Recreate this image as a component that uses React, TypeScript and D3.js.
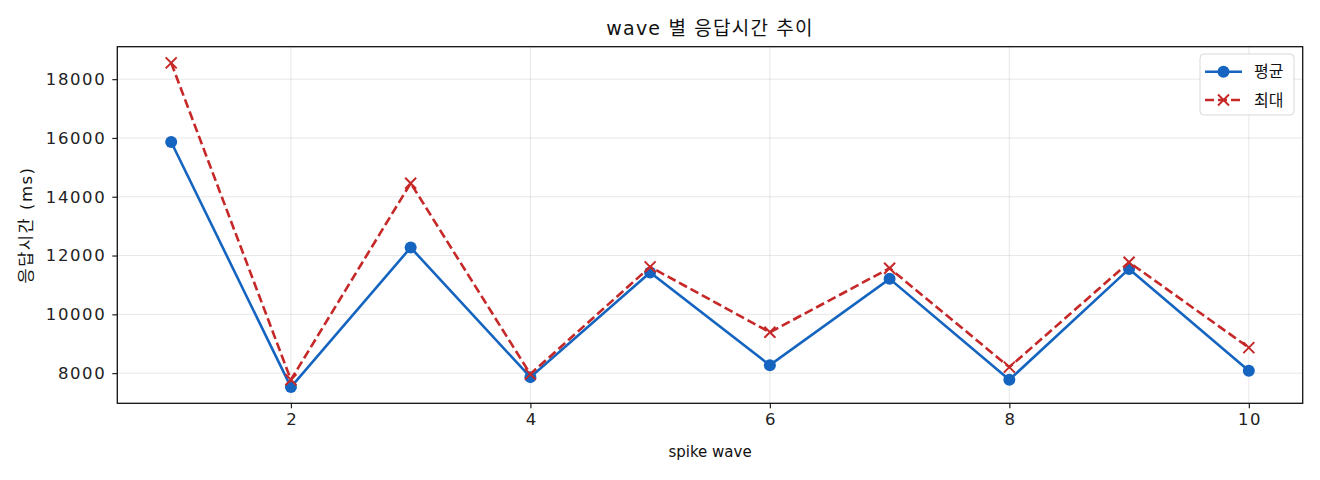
import React, { useEffect, useRef } from 'react';
import * as d3 from 'd3';

const waves = [1, 2, 3, 4, 5, 6, 7, 8, 9, 10];
const avgMs = [15864, 7525, 12271, 7864, 11424, 8271, 11207, 7773, 11546, 8078];
const maxMs = [18553, 7773, 14461, 7966, 11614, 9390, 11569, 8203, 11773, 8868];
const yTicks = [8000, 10000, 12000, 14000, 16000, 18000];
const xTicks = [2, 4, 6, 8, 10];
const legendLabels = ['평균', '최대'];

const BLUE = '#1565c0';
const RED = '#c62828';
const FONT = '"DejaVu Sans", "Noto Sans CJK KR", sans-serif';

const App: React.FC = () => {
  const svgRef = useRef<SVGSVGElement>(null);
  const width = 1320;
  const height = 480;

  useEffect(() => {
    document.body.style.margin = '0';
    if (!svgRef.current) return;
    const svg = d3.select(svgRef.current);
    svg.selectAll('*').remove();

    const left = 117.3, right = 1302.7, top = 46.7, bottom = 403.3;

    // matplotlib-like 5% margins
    const xMin = d3.min(waves)!, xMax = d3.max(waves)!;
    const xPad = (xMax - xMin) * 0.05;
    const all = avgMs.concat(maxMs);
    const yMin = d3.min(all)!, yMax = d3.max(all)!;
    const yPad = (yMax - yMin) * 0.05;

    const x = d3.scaleLinear().domain([xMin - xPad, xMax + xPad]).range([left, right]);
    const y = d3.scaleLinear().domain([yMin - yPad, yMax + yPad]).range([bottom, top]);

    svg.append('rect')
      .attr('width', width).attr('height', height).attr('fill', 'white');

    // Grid
    const grid = svg.append('g');
    grid.selectAll('.gx').data(xTicks).enter().append('line')
      .attr('x1', d => x(d)).attr('x2', d => x(d))
      .attr('y1', top).attr('y2', bottom)
      .attr('stroke', '#b0b0b0').attr('stroke-opacity', 0.3).attr('stroke-width', 1);
    grid.selectAll('.gy').data(yTicks).enter().append('line')
      .attr('x1', left).attr('x2', right)
      .attr('y1', d => y(d)).attr('y2', d => y(d))
      .attr('stroke', '#b0b0b0').attr('stroke-opacity', 0.3).attr('stroke-width', 1);

    // Axes
    const xAxis = svg.append('g')
      .attr('transform', `translate(0,${bottom})`)
      .call(d3.axisBottom(x).tickValues(xTicks).tickSize(5).tickPadding(5).tickFormat(d3.format('d')));
    const yAxis = svg.append('g')
      .attr('transform', `translate(${left},0)`)
      .call(d3.axisLeft(y).tickValues(yTicks).tickSize(5).tickPadding(6).tickFormat(d3.format('d')));
    [xAxis, yAxis].forEach(a => {
      a.select('.domain').remove();
      a.selectAll('line').attr('stroke', '#222').attr('stroke-width', 1.2);
      a.selectAll('text')
        .style('font-family', FONT)
        .style('font-size', '16.5px')
        .style('letter-spacing', '1.6px')
        .attr('fill', '#222');
    });
    xAxis.selectAll('text').attr('dx', '0.8px');

    // Lines
    const line = d3.line<number>()
      .x((_, i) => x(waves[i]))
      .y(d => y(d));

    svg.append('path')
      .datum(avgMs)
      .attr('d', line)
      .attr('fill', 'none')
      .attr('stroke', BLUE)
      .attr('stroke-width', 2.6);

    svg.selectAll('.avg-pt').data(avgMs).enter().append('circle')
      .attr('cx', (_, i) => x(waves[i]))
      .attr('cy', d => y(d))
      .attr('r', 6)
      .attr('fill', BLUE);

    svg.append('path')
      .datum(maxMs)
      .attr('d', line)
      .attr('fill', 'none')
      .attr('stroke', RED)
      .attr('stroke-width', 2.6)
      .attr('stroke-dasharray', '9,4');

    const cross = (g: d3.Selection<SVGGElement, unknown, null, undefined>, cx: number, cy: number) => {
      const s = 5.5;
      g.append('path')
        .attr('d', `M${cx - s},${cy - s}L${cx + s},${cy + s}M${cx - s},${cy + s}L${cx + s},${cy - s}`)
        .attr('stroke', RED)
        .attr('stroke-width', 2)
        .attr('fill', 'none');
    };
    const crosses = svg.append('g');
    maxMs.forEach((v, i) => cross(crosses as any, x(waves[i]), y(v)));

    // Frame
    svg.append('rect')
      .attr('x', left).attr('y', top)
      .attr('width', right - left).attr('height', bottom - top)
      .attr('fill', 'none').attr('stroke', '#111').attr('stroke-width', 1.3);

    // Title and labels
    svg.append('text')
      .attr('x', (left + right) / 2).attr('y', 35)
      .attr('text-anchor', 'middle')
      .style('font-family', FONT).style('font-size', '19px')
      .style('letter-spacing', '1.2px')
      .attr('fill', '#111')
      .text('wave 별 응답시간 추이');

    svg.append('text')
      .attr('x', (left + right) / 2).attr('y', 457)
      .attr('text-anchor', 'middle')
      .style('font-family', FONT).style('font-size', '15px')
      .attr('fill', '#111')
      .text('spike wave');

    svg.append('text')
      .attr('transform', `translate(32,${(top + bottom) / 2}) rotate(-90)`)
      .attr('text-anchor', 'middle')
      .style('font-family', FONT).style('font-size', '16.5px')
      .style('letter-spacing', '1.5px')
      .attr('fill', '#111')
      .text('응답시간 (ms)');

    // Legend
    const legend = svg.append('g').attr('transform', 'translate(1200,54)');
    legend.append('rect')
      .attr('width', 94).attr('height', 61).attr('rx', 4)
      .attr('fill', 'white').attr('fill-opacity', 0.8)
      .attr('stroke', '#d8d8d8').attr('stroke-width', 1);

    const rows = [17.7, 46];
    legend.append('line')
      .attr('x1', 5).attr('x2', 42).attr('y1', rows[0]).attr('y2', rows[0])
      .attr('stroke', BLUE).attr('stroke-width', 2.6);
    legend.append('circle').attr('cx', 23.5).attr('cy', rows[0]).attr('r', 6).attr('fill', BLUE);
    legend.append('line')
      .attr('x1', 5).attr('x2', 42).attr('y1', rows[1]).attr('y2', rows[1])
      .attr('stroke', RED).attr('stroke-width', 2.6).attr('stroke-dasharray', '9,4');
    cross(legend as any, 23.5, rows[1]);

    legend.selectAll('.lbl').data(legendLabels).enter().append('text')
      .attr('x', 54)
      .attr('y', (_, i) => rows[i])
      .attr('dy', '0.35em')
      .style('font-family', FONT).style('font-size', '16px')
      .attr('fill', '#111')
      .text(d => d);
  }, []);

  return <svg ref={svgRef} width={width} height={height} style={{ display: 'block' }} />;
};

export default App;
